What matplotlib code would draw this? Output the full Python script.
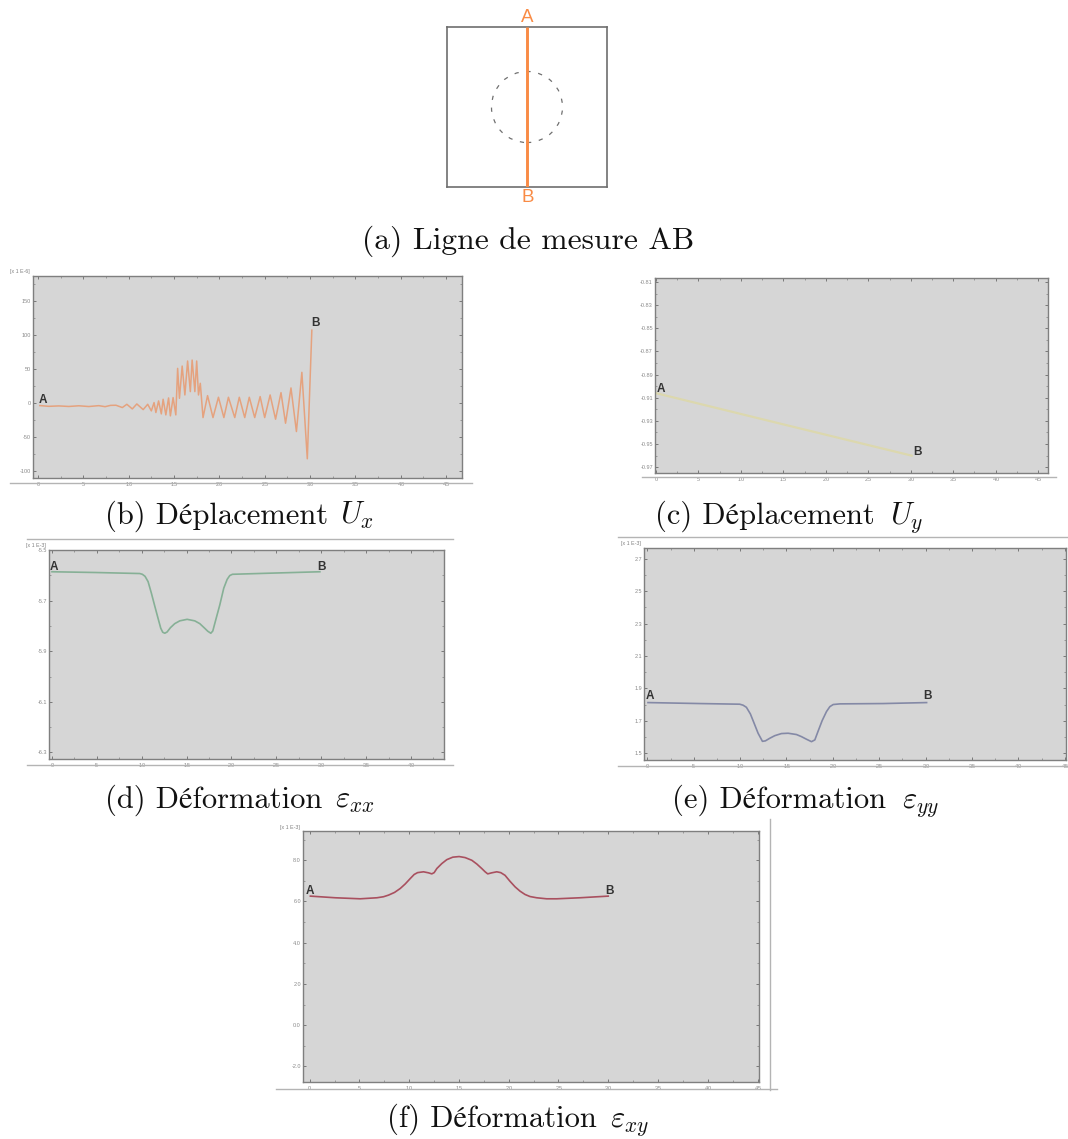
import matplotlib
matplotlib.use("Agg")
import matplotlib.pyplot as plt
from matplotlib.lines import Line2D
from matplotlib.patches import Circle
from matplotlib.ticker import MultipleLocator, FixedLocator

W, H = 1068, 1139
plt.rcParams['mathtext.fontset'] = 'cm'
plt.rcParams['mathtext.default'] = 'it'
plt.rcParams['font.family'] = ['cmr10', 'STIXGeneral', 'DejaVu Serif']
plt.rcParams['axes.unicode_minus'] = False
plt.rcParams['axes.formatter.use_mathtext'] = True

# ---------- data ----------
captions = ["(a) Ligne de mesure AB", "(b) Déplacement", "(c) Déplacement",
            "(d) Déformation", "(e) Déformation", "(f) Déformation"]
caption_math = ["", r"$U_x$", r"$U_y$", r"$\varepsilon_{xx}$", r"$\varepsilon_{yy}$", r"$\varepsilon_{xy}$"]

x_ticks = [0, 5, 10, 15, 20, 25, 30, 35, 40, 45]

ux_x = [0.2, 1.2, 2.3, 3.4, 4.5, 5.6, 6.7, 7.4, 8.0, 8.6, 9.3, 9.8, 10.4, 10.9, 11.6, 12.1, 12.5,
        12.8, 13.0, 13.3, 13.6, 13.8, 14.1, 14.4, 14.6, 14.9, 15.2, 15.4, 15.6, 15.9, 16.2, 16.5,
        16.8, 17.0, 17.3, 17.5, 17.7, 17.9, 18.2, 18.7, 19.3, 19.9, 20.5, 21.0, 21.7, 22.2, 22.8,
        23.3, 23.9, 24.5, 25.0, 25.6, 26.2, 26.8, 27.3, 27.9, 28.5, 29.1, 29.7, 30.2]
ux_y = [-3.9, -5.0, -4.4, -5.2, -4.2, -5.3, -4.0, -5.5, -3.6, -3.4, -6.8, -2.0, -8.8, -1.5, -9.8,
        -2.0, -11.7, 0.5, -14.1, 2.9, -16.1, 5.4, -17.6, 7.3, -19.0, 7.8, -17.6, 50.7, 6.8, 54.1,
        11.7, 61.5, 16.6, 62.9, 16.6, 61.5, 11.7, 28.8, -21.5, 10.7, -21.5, 8.3, -21.5, 8.3, -21.5,
        8.3, -21.5, 8.3, -21.5, 9.3, -21.5, 11.7, -23.9, 15.1, -29.8, 22.0, -42.0, 44.9, -82.0, 106.8]
ux_yt = [150, 100, 50, 0, -50, -100]

uy_x = [0.0, 15.0, 30.1]
uy_y = [-0.906, -0.933, -0.960]
uy_yt = [-0.81, -0.83, -0.85, -0.87, -0.89, -0.91, -0.93, -0.95, -0.97]

exx_x = [0, 4.94, 9.78, 10.07, 10.37, 10.71, 11.08, 11.45, 11.82, 12.12, 12.34, 12.57, 12.83, 13.20,
         13.68, 14.24, 15.06, 15.91, 16.47, 16.95, 17.36, 17.70, 17.92, 18.25, 18.70, 19.14, 19.52,
         19.81, 20.11, 23.90, 29.85]
exx_y = [-5.586, -5.589, -5.593, -5.596, -5.604, -5.625, -5.671, -5.721, -5.770, -5.809, -5.825, -5.829,
         -5.824, -5.807, -5.791, -5.780, -5.774, -5.780, -5.791, -5.807, -5.821, -5.829, -5.820, -5.776,
         -5.717, -5.651, -5.616, -5.601, -5.596, -5.592, -5.586]
exx_yt = [-5.5, -5.7, -5.9, -6.1, -6.3]

eyy_x = [0.07, 5.65, 9.96, 10.32, 10.68, 11.11, 11.51, 11.94, 12.41, 12.73, 13.20, 13.74, 14.46, 15.18,
         16.08, 16.62, 17.16, 17.70, 18.06, 18.42, 18.85, 19.32, 19.68, 20.04, 20.76, 25.43, 30.11]
eyy_y = [1.813, 1.807, 1.803, 1.797, 1.784, 1.743, 1.686, 1.624, 1.574, 1.577, 1.593, 1.609, 1.622, 1.624,
         1.616, 1.603, 1.587, 1.572, 1.583, 1.638, 1.702, 1.758, 1.788, 1.801, 1.805, 1.807, 1.813]
eyy_yt = [2.7, 2.5, 2.3, 2.1, 1.9, 1.7, 1.5]

exy_x = [0.07, 2.58, 5.08, 6.76, 7.42, 7.93, 8.53, 9.10, 9.60, 10.10, 10.50, 10.84, 11.44, 11.94, 12.27,
         12.51, 12.78, 13.28, 13.78, 14.38, 15.02, 15.62, 16.29, 16.79, 17.29, 17.63, 17.89, 18.29, 18.80,
         19.20, 19.63, 20.13, 20.64, 21.14, 21.64, 22.14, 22.81, 23.81, 24.82, 27.16, 30.0]
exy_y = [6.26, 6.18, 6.13, 6.18, 6.23, 6.31, 6.44, 6.63, 6.85, 7.11, 7.31, 7.40, 7.44, 7.39, 7.34,
         7.40, 7.60, 7.84, 8.03, 8.15, 8.18, 8.13, 8.0, 7.82, 7.60, 7.44, 7.34, 7.39, 7.44,
         7.40, 7.27, 6.98, 6.71, 6.50, 6.34, 6.24, 6.18, 6.13, 6.13, 6.18, 6.26]
exy_yt = [8, 6, 4, 2, 0, -2]

fig = plt.figure(figsize=(W / 100, H / 100), dpi=100, facecolor='white')
SANS = 'Liberation Sans'
GRID = '#7f7f7f'


def px_axes(x0, y0, x1, y1):
    return fig.add_axes([x0 / W, 1 - y1 / H, (x1 - x0) / W, (y1 - y0) / H])


def ftext(x, y, s, **kw):
    kw.setdefault('ha', 'center')
    kw.setdefault('va', 'center')
    fig.text(x / W, 1 - y / H, s, **kw)


def rule(x0, y0, x1, y1, c='#b4b4b4', lw=1.0):
    fig.add_artist(Line2D([x0 / W, x1 / W], [1 - y0 / H, 1 - y1 / H], color=c, lw=lw,
                          transform=fig.transFigure))


def panel(box, xlim, ylim, xs, ys, color, yticks, ylabels, yminor, mult, lab_a, lab_b, lw=1.1):
    ax = px_axes(*box)
    ax.set_facecolor('#d6d6d6')
    ax.plot(xs, ys, color=color, lw=lw, solid_joinstyle='round')
    ax.set_xlim(*xlim)
    ax.set_ylim(*ylim)
    ax.xaxis.set_major_locator(FixedLocator(x_ticks))
    ax.xaxis.set_minor_locator(MultipleLocator(2.5))
    ax.set_yticks(yticks)
    ax.set_yticklabels(ylabels)
    ax.yaxis.set_minor_locator(MultipleLocator(yminor))
    ax.tick_params(which='major', direction='in', top=True, right=True, length=2.2, width=0.6,
                   color='#6a6a6a', labelsize=4, labelcolor='#8a8a8a', pad=1.5)
    ax.tick_params(which='minor', direction='in', top=True, right=True, length=1.2, width=0.5,
                   color='#808080')
    for t in ax.get_xticklabels() + ax.get_yticklabels():
        t.set_family(SANS)
    for s in ax.spines.values():
        s.set_color(GRID)
        s.set_linewidth(1.0)
    if mult:
        ftext(box[0] - 13, box[1] - 4, mult, fontsize=3.8, color='#808080', family=SANS)
    ftext(*lab_a, 'A', fontsize=8.5, color='#333333', family=SANS, weight='bold')
    ftext(*lab_b, 'B', fontsize=8.5, color='#333333', family=SANS, weight='bold')
    return ax


# ---------- (a) ----------
ax = px_axes(447, 27, 607, 187)
ax.set_xlim(0, 1)
ax.set_ylim(0, 1)
ax.set_xticks([])
ax.set_yticks([])
for s in ax.spines.values():
    s.set_color('#6e6e6e')
    s.set_linewidth(1.2)
ax.add_patch(Circle((0.5, 0.5), 0.222, fill=False, ec='#707070', lw=0.9, ls=(0, (3.4, 6.2))))
ax.plot([0.5, 0.5], [0, 1], color='#f98b45', lw=2.1, zorder=3, solid_capstyle='butt')
ftext(527, 17, 'A', fontsize=13.5, color='#f98b45', family=SANS)
ftext(528, 198, 'B', fontsize=13.5, color='#f98b45', family=SANS)

# ---------- (b) ----------
panel((33, 276, 462, 478), (-0.55, 46.76), (-110.2, 186.3), ux_x, ux_y, '#e5a27e', ux_yt,
      [str(v) for v in ux_yt], 25, '[x 1 E-6]', (43, 400), (316, 323))
rule(10, 483, 472, 483)

# ---------- (c) ----------
panel((655, 278, 1048, 473), (-0.12, 46.16), (-0.975, -0.8065), uy_x, uy_y, '#dcd8ae', uy_yt,
      [f'{v:.2f}' for v in uy_yt], 0.01, '', (661, 389), (917, 452), lw=1.6)
rule(642, 477, 1056, 477)

# ---------- (d) ----------
panel((49, 550, 444, 759), (-0.33, 43.68), (-6.326, -5.5), exx_x, exx_y, '#86b096', exx_yt,
      [f'{v:.1f}' for v in exx_yt], 0.1, '[x 1 E-3]', (54, 567), (322, 567), lw=1.2)
rule(27, 539, 453, 539)
rule(27, 765, 453, 765)

# ---------- (e) ----------
panel((644, 548, 1066, 760), (-0.36, 45.14), (1.459, 2.766), eyy_x, eyy_y, '#8489a6', eyy_yt,
      [f'{v:.1f}' for v in eyy_yt], 0.1, '[x 1 E-3]', (650, 696), (928, 696), lw=1.2)
rule(618, 537, 1068, 537)
rule(618, 766, 1068, 766)

# ---------- (f) ----------
panel((303, 831, 759, 1082), (-0.67, 45.15), (-2.76, 9.42), exy_x, exy_y, '#a9505f', exy_yt,
      [f'{v:.1f}' for v in exy_yt], 1, '[x 1 E-3]', (310, 891), (610, 891), lw=1.2)
rule(276, 1089, 777, 1089)
rule(770, 819, 770, 1090)

# ---------- captions ----------
caption_pos = [(362, 249), (105, 524), (655, 524), (105, 808), (672, 808), (387, 1127)]
caption_size = [22.7, 22, 22, 22, 22, 22]
math_x = [0, 340, 890, 335, 902, 610]
for s, m, (cx, cy), mx, fs in zip(captions, caption_math, caption_pos, math_x, caption_size):
    ftext(cx, cy, s, fontsize=fs, color='#111111', ha='left', va='baseline')
    if m:
        ftext(mx, cy, m, fontsize=22, color='#111111', ha='left', va='baseline')

fig.savefig('out.png', dpi=100, facecolor='white')
